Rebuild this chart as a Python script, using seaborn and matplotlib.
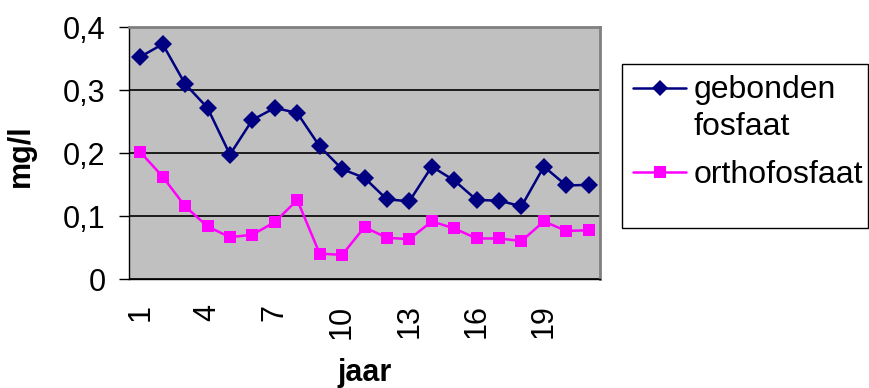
import pandas as pd
import matplotlib.pyplot as plt
import matplotlib.ticker as mticker
from matplotlib.patches import Rectangle
from matplotlib.lines import Line2D
import seaborn as sns

# Gemeten waarden per jaar (mg/l)
jaren = list(range(1, 22))
gebonden_fosfaat = [0.353, 0.373, 0.310, 0.272, 0.198, 0.253, 0.272, 0.264, 0.211, 0.175, 0.161,
                    0.127, 0.124, 0.179, 0.157, 0.126, 0.125, 0.116, 0.179, 0.149, 0.150]
orthofosfaat = [0.202, 0.163, 0.116, 0.084, 0.067, 0.071, 0.091, 0.126, 0.041, 0.039, 0.083,
                0.066, 0.064, 0.092, 0.081, 0.065, 0.065, 0.061, 0.092, 0.077, 0.078]
reeksen = ['gebonden\nfosfaat', 'orthofosfaat']
kleuren = ['#000080', '#FF00FF']
symbolen = ['D', 's']
y_ticks = [0, 0.1, 0.2, 0.3, 0.4]
y_labels = ['0', '0,1', '0,2', '0,3', '0,4']

df = pd.DataFrame({
    'jaar': jaren * 2,
    'mg/l': gebonden_fosfaat + orthofosfaat,
    'reeks': [reeksen[0]] * len(jaren) + [reeksen[1]] * len(jaren),
})

sns.set_style('white')
plt.rcParams['font.family'] = ['Liberation Sans', 'DejaVu Sans']
plt.rcParams['text.color'] = 'black'
plt.rcParams['xtick.color'] = 'black'
plt.rcParams['ytick.color'] = 'black'
plt.rcParams['axes.labelcolor'] = 'black'

fig = plt.figure(figsize=(8.69, 3.88), dpi=100)
ax = fig.add_axes([0.1485, 0.2797, 0.5419, 0.6503])
ax.set_facecolor('#C0C0C0')

sns.lineplot(data=df, x='jaar', y='mg/l', hue='reeks', style='reeks',
             palette=dict(zip(reeksen, kleuren)), markers=dict(zip(reeksen, symbolen)),
             dashes=False, markersize=9, markeredgewidth=0, linewidth=1.8, ax=ax, legend=False)

ax.set_xlim(0.5, 21.5)
ax.set_ylim(0, 0.4)
ax.set_yticks(y_ticks)
ax.yaxis.set_major_formatter(mticker.FixedFormatter(y_labels))
ax.grid(axis='y', color='black', linewidth=1.2)
ax.set_axisbelow(True)

# categorie-as: streepjes tussen de jaren, labels bij elk derde jaar
ax.set_xticks([j for j in jaren if (j - 1) % 3 == 0])
ax.set_xticks([j - 0.5 for j in jaren] + [21.5], minor=True)
ax.tick_params(axis='x', which='major', length=0, labelrotation=90, labelsize=22, pad=18)
ax.tick_params(axis='x', which='minor', length=8, width=1, color='black', direction='out')
ax.tick_params(axis='y', length=7, width=1, color='black', direction='out', labelsize=22,
               left=True, pad=10)

for side in ['top', 'right']:
    ax.spines[side].set_color('#808080')
    ax.spines[side].set_linewidth(2)
for side in ['left', 'bottom']:
    ax.spines[side].set_color('black')
    ax.spines[side].set_linewidth(1)

ax.set_xlabel('jaar', fontsize=22, fontweight='bold')
ax.set_ylabel('mg/l', fontsize=22, fontweight='bold')
ax.xaxis.set_label_coords(0.5, -0.31)
ax.yaxis.set_label_coords(-0.198, 0.49)

# legenda zoals in Excel: symbool naast de eerste regel van elk label
W, H = 869, 388
fig.patches.append(Rectangle((622 / W, 1 - 228 / H), (868 - 622) / W, 164 / H,
                             transform=fig.transFigure, fill=False, edgecolor='black', linewidth=1))
lijn_y = [88, 172]
basis_y = [135, 183]  # basislijn van de laatste regel
for naam, kleur, symbool, ly, by in zip(reeksen, kleuren, symbolen, lijn_y, basis_y):
    fig.add_artist(Line2D([633 / W, 686 / W], [1 - ly / H] * 2, transform=fig.transFigure,
                          color=kleur, linewidth=1.8))
    fig.add_artist(Line2D([659.5 / W], [1 - ly / H], transform=fig.transFigure, color=kleur,
                          marker=symbool, markersize=8 if symbool == 'D' else 9, markeredgewidth=0))
    fig.text(694 / W, 1 - by / H, naam, fontsize=23, va='baseline', ha='left', linespacing=1.3)

fig.savefig('out.png', dpi=100)
